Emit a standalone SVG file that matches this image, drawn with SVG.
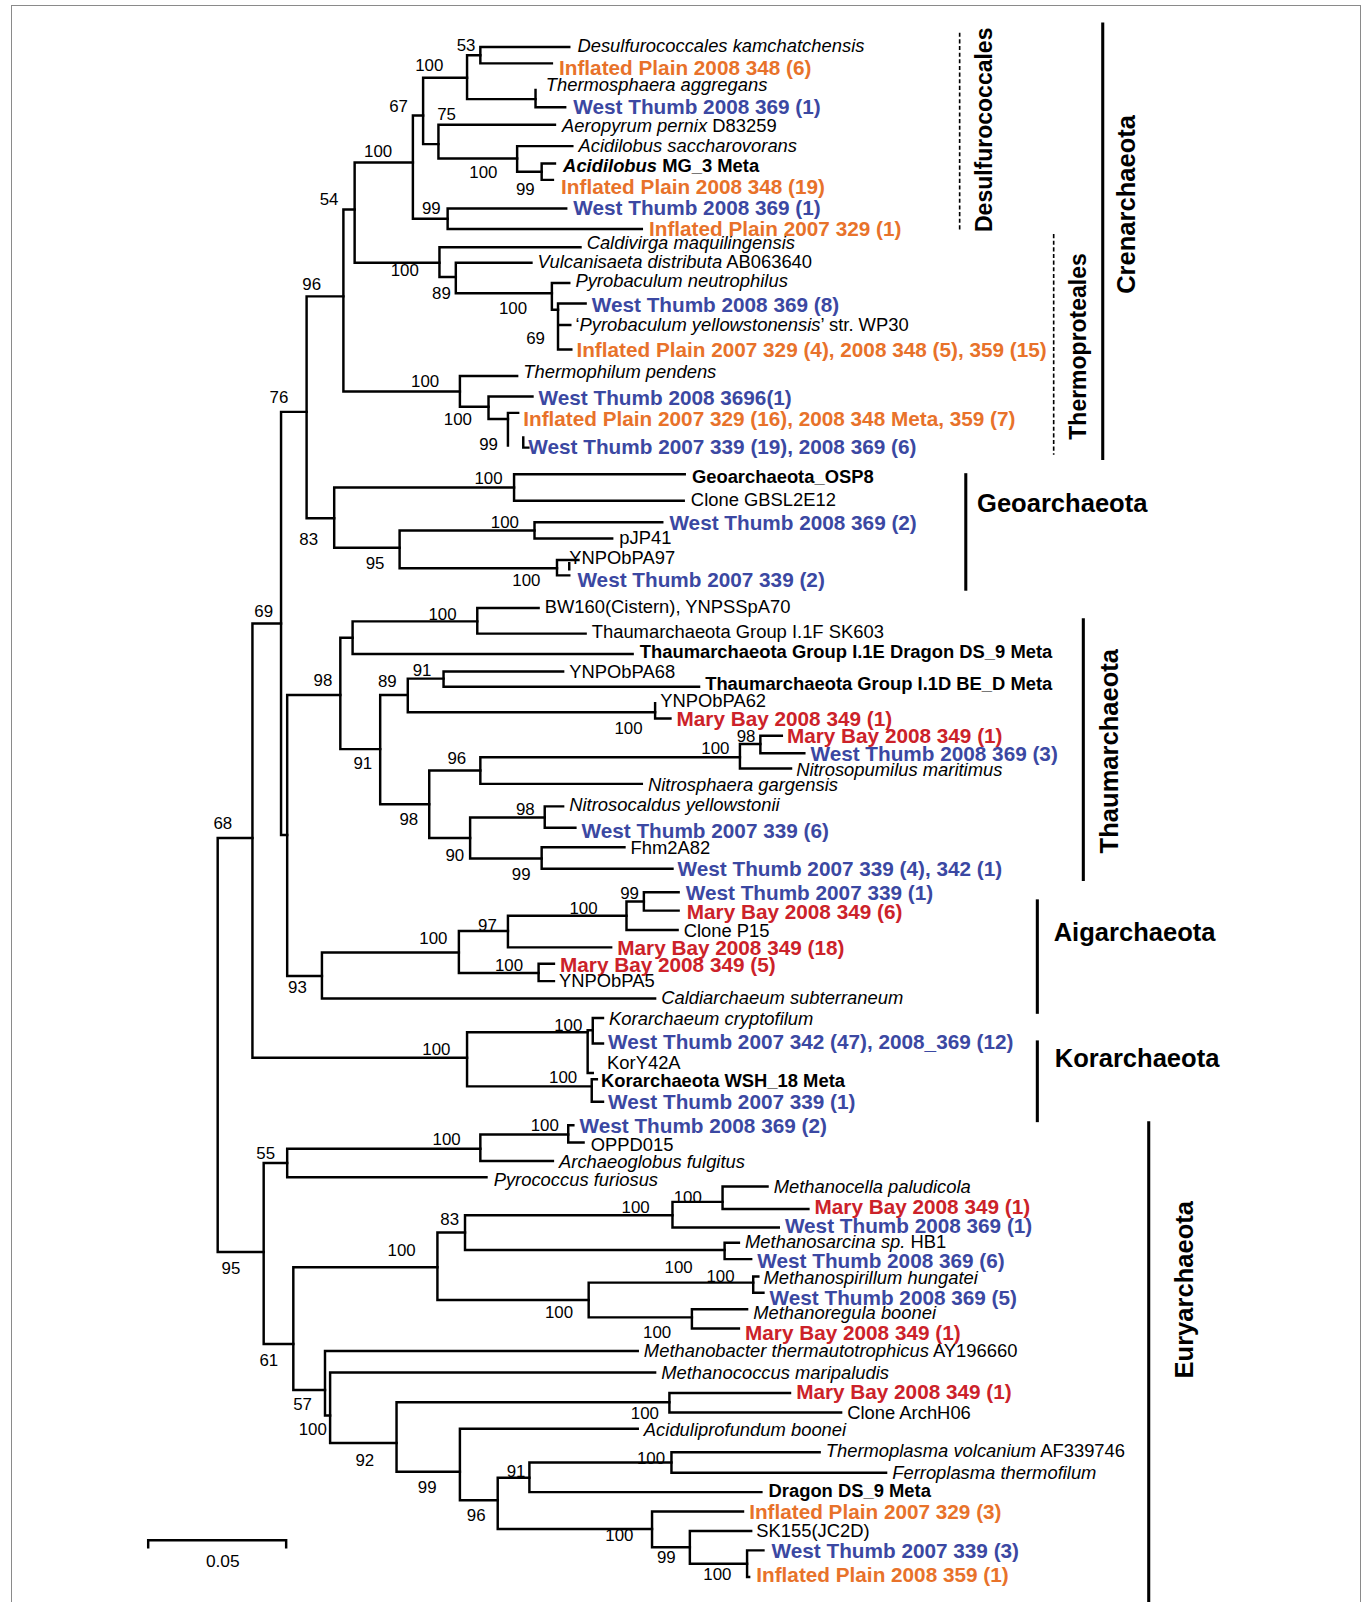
<svg xmlns="http://www.w3.org/2000/svg" width="1363" height="1602" viewBox="0 0 1363 1602">
<defs>
<style>
text{font-family:"Liberation Sans",Arial,sans-serif;fill:#000}
.br{stroke:#000;stroke-width:2.4;fill:none;stroke-linecap:square}
.bar{stroke:#000;stroke-width:3;fill:none}
.dash{stroke:#000;stroke-width:1.6;fill:none;stroke-dasharray:4 2.5}
.sup{font-size:16.5px;text-anchor:middle}
.i{font-size:18px;font-style:italic}
.r{font-size:18px}
.b{font-size:18px;font-weight:bold}
.o{font-size:20.3px;font-weight:bold;fill:#E8722A}
.bl{font-size:20.3px;font-weight:bold;fill:#3B48A2}
.rd{font-size:20.3px;font-weight:bold;fill:#CC2229}
.cl{font-size:25px;font-weight:bold}
.sub{font-size:22.5px;font-weight:bold}
.it{font-style:italic}
</style>
</defs>
<rect x="11.5" y="5.5" width="1349" height="1610" fill="#fff" stroke="#8a8a8a" stroke-width="1"/>
<g transform="scale(1.022)">
<g id="connectors" class="br">
<path d="M213 820V1225M213 820H247M213 1225H258"/>
<path d="M247 610V1035M247 610H275M247 1035H457"/>
<path d="M275 403V817M275 403H300M275 817H281"/>
<path d="M300 290V507M300 290H336M300 507H327"/>
<path d="M336 205V383M336 205H347M336 383H450"/>
<path d="M347 159V257M347 159H404M347 257H430"/>
<path d="M404 113V214M404 113H414M404 214H438"/>
<path d="M414 76V141M414 76H457M414 141H429"/>
<path d="M457 54V97M457 54H470M457 97H524"/>
<path d="M470 46V62M470 46H557M470 62H540"/>
<path d="M524 88V105M524 105H553"/>
<path d="M429 122V155M429 122H543M429 155H506"/>
<path d="M506 143V168M506 143H560M506 168H530"/>
<path d="M530 160V176M530 160H543M530 176H541"/>
<path d="M438 204V224M438 204H554M438 224H628"/>
<path d="M430 242V271M430 242H568M430 271H446"/>
<path d="M446 257V287M446 257H520M446 287H540"/>
<path d="M540 277V303M540 277H557M540 303H546"/>
<path d="M546 297V342M546 297H573M546 318H558M546 342H559"/>
<path d="M450 368V398M450 368H506M450 398H478"/>
<path d="M478 388V410M478 388H521M478 410H497"/>
<path d="M497 404V436M497 404H507M512 428V438H517"/>
<path d="M327 477V536M327 477H503M327 536H391"/>
<path d="M503 464V490M503 464H670M503 490H669"/>
<path d="M391 519V556M391 519H523M391 556H545"/>
<path d="M523 511V527M523 511H648M523 527H599"/>
<path d="M545 548V563M545 548H566M557 551V557M545 563H557"/>
<path d="M281 680V955M281 680H333M281 955H315"/>
<path d="M333 624V733M333 624H345M333 733H372"/>
<path d="M345 608V640M345 608H467M345 640H619"/>
<path d="M467 595V620M467 595H527M467 620H573"/>
<path d="M372 680V787M372 680H399M372 787H420"/>
<path d="M399 664V697M399 664H434M399 697H641"/>
<path d="M434 657V672M434 657H551M434 672H684"/>
<path d="M641 688V703M641 703H656"/>
<path d="M420 754V820M420 754H470M420 820H460"/>
<path d="M470 741V767M470 741H724M470 767H628"/>
<path d="M724 728V752M724 728H744M724 752H774"/>
<path d="M744 720V737M744 720H765M744 737H787"/>
<path d="M460 800V840M460 800H533M460 840H530"/>
<path d="M533 789V810M533 789H551M533 810H563"/>
<path d="M530 829V850M530 829H611M530 850H658"/>
<path d="M315 932V977M315 932H449M315 977H641"/>
<path d="M449 911V952M449 911H497M449 952H527"/>
<path d="M497 896V927M497 896H613M497 927H598"/>
<path d="M613 882V910M613 882H630M613 910H663"/>
<path d="M630 873V891M630 873H664M630 891H664"/>
<path d="M527 943V960M527 943H542M527 960H542"/>
<path d="M457 1010V1063M457 1010H575M457 1063H579"/>
<path d="M575 1008V1050M575 1008H580M575 1050H580"/>
<path d="M580 996V1021M580 996H590M580 1021H590"/>
<path d="M579 1056V1078M579 1056H584M579 1078H590"/>
<path d="M258 1138V1315M258 1138H281M258 1315H287"/>
<path d="M281 1124V1152M281 1124H470M281 1152H476"/>
<path d="M470 1110V1136M470 1110H556M470 1136H541"/>
<path d="M556 1101V1118M556 1101H561M556 1118H571"/>
<path d="M287 1240V1360M287 1240H428M287 1360H318"/>
<path d="M428 1206V1272M428 1206H455M428 1272H576"/>
<path d="M455 1189V1223M455 1189H658M455 1223H709"/>
<path d="M658 1176V1201M658 1176H707M658 1201H762"/>
<path d="M707 1161V1183M707 1161H751M707 1183H791"/>
<path d="M709 1216V1232M709 1216H723M709 1232H735"/>
<path d="M576 1255V1289M576 1255H737M576 1289H677"/>
<path d="M737 1249V1265M737 1249H742M737 1265H747"/>
<path d="M677 1281V1300M677 1281H731M677 1300H723"/>
<path d="M318 1322V1385M318 1322H624M318 1385H323"/>
<path d="M323 1343V1412M323 1343H641M323 1412H388"/>
<path d="M388 1372V1440M388 1372H655M388 1440H450"/>
<path d="M655 1363V1382M655 1363H773M655 1382H823"/>
<path d="M450 1398V1468M450 1398H624M450 1468H487"/>
<path d="M487 1446V1496M487 1446H518M487 1496H638"/>
<path d="M518 1431V1460M518 1431H657M518 1460H745"/>
<path d="M657 1421V1441M657 1421H802M657 1441H867"/>
<path d="M638 1479V1514M638 1479H727M638 1514H675"/>
<path d="M675 1498V1530M675 1498H735M675 1530H731"/>
<path d="M731 1517V1543M731 1517H747M731 1543H733"/>
</g>
<g id="support" class="sup">
<text x="456" y="50">53</text><text x="420" y="69">100</text><text x="390" y="110">67</text><text x="437" y="117">75</text>
<text x="370" y="154">100</text><text x="473" y="174">100</text><text x="514" y="191">99</text><text x="422" y="209">99</text>
<text x="322" y="201">54</text><text x="305" y="284">96</text><text x="396" y="270">100</text><text x="432" y="293">89</text>
<text x="502" y="307">100</text><text x="524" y="337">69</text><text x="273" y="394">76</text><text x="416" y="379">100</text>
<text x="448" y="416">100</text><text x="478" y="440">99</text>
<text x="478" y="474">100</text><text x="302" y="533">83</text><text x="494" y="517">100</text><text x="367" y="557">95</text><text x="515" y="573">100</text>
<text x="258" y="604">69</text><text x="433" y="607">100</text><text x="316" y="671">98</text><text x="413" y="661">91</text><text x="379" y="672">89</text>
<text x="615" y="718">100</text><text x="355" y="752">91</text><text x="447" y="748">96</text><text x="700" y="738">100</text><text x="730" y="726">98</text>
<text x="400" y="807">98</text><text x="514" y="797">98</text><text x="445" y="842">90</text><text x="510" y="861">99</text>
<text x="616" y="880">99</text><text x="571" y="894">100</text><text x="477" y="911">97</text><text x="424" y="924">100</text><text x="498" y="950">100</text><text x="291" y="972">93</text>
<text x="218" y="811">68</text><text x="427" y="1032">100</text><text x="556" y="1009">100</text><text x="551" y="1060">100</text>
<text x="533" y="1107">100</text><text x="437" y="1120">100</text><text x="260" y="1134">55</text><text x="440" y="1199">83</text>
<text x="622" y="1187">100</text><text x="673" y="1177">100</text><text x="393" y="1229">100</text><text x="226" y="1247">95</text>
<text x="664" y="1246">100</text><text x="705" y="1254">100</text><text x="547" y="1290">100</text><text x="643" y="1309">100</text>
<text x="263" y="1337">61</text><text x="296" y="1380">57</text><text x="306" y="1404">100</text><text x="631" y="1388">100</text>
<text x="357" y="1434">92</text><text x="418" y="1461">99</text><text x="505" y="1445">91</text><text x="637" y="1432">100</text>
<text x="466" y="1488">96</text><text x="606" y="1508">100</text><text x="652" y="1529">99</text><text x="702" y="1546">100</text>
</g>
<g id="tip01"><text class="i" x="565" y="51">Desulfurococcales kamchatchensis</text></g>
<g id="tip02"><text class="o" x="547" y="73">Inflated Plain 2008 348 (6)</text></g>
<g id="tip03"><text class="i" x="534" y="89">Thermosphaera aggregans</text></g>
<g id="tip04"><text class="bl" x="561" y="112">West Thumb 2008 369 (1)</text></g>
<g id="tip05"><text class="r" x="550" y="129"><tspan class="it">Aeropyrum pernix</tspan> D83259</text></g>
<g id="tip06"><text class="i" x="566" y="149">Acidilobus saccharovorans</text></g>
<g id="tip07"><text class="b" x="551" y="168"><tspan class="it">Acidilobus</tspan> MG_3 Meta</text></g>
<g id="tip08"><text class="o" x="549" y="190">Inflated Plain 2008 348 (19)</text></g>
<g id="tip09"><text class="bl" x="561" y="210">West Thumb 2008 369 (1)</text></g>
<g id="tip10"><text class="o" x="635" y="231">Inflated Plain 2007 329 (1)</text></g>
<g id="tip11"><text class="i" x="574" y="244">Caldivirga maquilingensis</text></g>
<g id="tip12"><text class="r" x="526" y="262"><tspan class="it">Vulcanisaeta distributa</tspan> AB063640</text></g>
<g id="tip13"><text class="i" x="563" y="281">Pyrobaculum neutrophilus</text></g>
<g id="tip14"><text class="bl" x="579" y="305">West Thumb 2008 369 (8)</text></g>
<g id="tip15"><text class="r" x="563" y="324">‘<tspan class="it">Pyrobaculum yellowstonensis</tspan>’ str. WP30</text></g>
<g id="tip16"><text class="o" x="564" y="349">Inflated Plain 2007 329 (4), 2008 348 (5), 359 (15)</text></g>
<g id="tip17"><text class="i" x="512" y="370">Thermophilum pendens</text></g>
<g id="tip18"><text class="bl" x="527" y="396">West Thumb 2008 3696(1)</text></g>
<g id="tip19"><text class="o" x="512" y="417">Inflated Plain 2007 329 (16), 2008 348 Meta, 359 (7)</text></g>
<g id="tip20"><text class="bl" x="517" y="444">West Thumb 2007 339 (19), 2008 369 (6)</text></g>
<g id="tip21"><text class="b" x="677" y="473">Geoarchaeota_OSP8</text></g>
<g id="tip22"><text class="r" x="676" y="495">Clone GBSL2E12</text></g>
<g id="tip23"><text class="bl" x="655" y="519">West Thumb 2008 369 (2)</text></g>
<g id="tip24"><text class="r" x="606" y="532">pJP41</text></g>
<g id="tip25"><text class="r" x="557" y="552">YNPObPA97</text></g>
<g id="tip26"><text class="bl" x="565" y="574">West Thumb 2007 339 (2)</text></g>
<g id="tip27"><text class="r" x="533" y="600">BW160(Cistern), YNPSSpA70</text></g>
<g id="tip28"><text class="r" x="579" y="624">Thaumarchaeota Group I.1F SK603</text></g>
<g id="tip29"><text class="b" x="626" y="644">Thaumarchaeota Group I.1E Dragon DS_9 Meta</text></g>
<g id="tip30"><text class="r" x="557" y="663">YNPObPA68</text></g>
<g id="tip31"><text class="b" x="690" y="675">Thaumarchaeota Group I.1D BE_D Meta</text></g>
<g id="tip32"><text class="r" x="646" y="692">YNPObPA62</text></g>
<g id="tip33"><text class="rd" x="662" y="710">Mary Bay 2008 349 (1)</text></g>
<g id="tip34"><text class="rd" x="770" y="727">Mary Bay 2008 349 (1)</text></g>
<g id="tip35"><text class="bl" x="793" y="745">West Thumb 2008 369 (3)</text></g>
<g id="tip36"><text class="i" x="779" y="759">Nitrosopumilus maritimus</text></g>
<g id="tip37"><text class="i" x="634" y="774">Nitrosphaera gargensis</text></g>
<g id="tip38"><text class="i" x="557" y="794">Nitrosocaldus yellowstonii</text></g>
<g id="tip39"><text class="bl" x="569" y="820">West Thumb 2007 339 (6)</text></g>
<g id="tip40"><text class="r" x="617" y="836">Fhm2A82</text></g>
<g id="tip41"><text class="bl" x="663" y="857">West Thumb 2007 339 (4), 342 (1)</text></g>
<g id="tip42"><text class="bl" x="671" y="881">West Thumb 2007 339 (1)</text></g>
<g id="tip43"><text class="rd" x="672" y="899">Mary Bay 2008 349 (6)</text></g>
<g id="tip44"><text class="r" x="669" y="917">Clone P15</text></g>
<g id="tip45"><text class="rd" x="604" y="934">Mary Bay 2008 349 (18)</text></g>
<g id="tip46"><text class="rd" x="548" y="951">Mary Bay 2008 349 (5)</text></g>
<g id="tip47"><text class="r" x="547" y="966">YNPObPA5</text></g>
<g id="tip48"><text class="i" x="647" y="982">Caldiarchaeum subterraneum</text></g>
<g id="tip49"><text class="i" x="596" y="1003">Korarchaeum cryptofilum</text></g>
<g id="tip50"><text class="bl" x="595" y="1026">West Thumb 2007 342 (47), 2008_369 (12)</text></g>
<g id="tip51"><text class="r" x="594" y="1046">KorY42A</text></g>
<g id="tip52"><text class="b" x="588" y="1064">Korarchaeota WSH_18 Meta</text></g>
<g id="tip53"><text class="bl" x="595" y="1085">West Thumb 2007 339 (1)</text></g>
<g id="tip54"><text class="bl" x="567" y="1109">West Thumb 2008 369 (2)</text></g>
<g id="tip55"><text class="r" x="578" y="1126">OPPD015</text></g>
<g id="tip56"><text class="i" x="547" y="1143">Archaeoglobus fulgitus</text></g>
<g id="tip57"><text class="i" x="483" y="1160">Pyrococcus furiosus</text></g>
<g id="tip58"><text class="i" x="757" y="1167">Methanocella paludicola</text></g>
<g id="tip59"><text class="rd" x="797" y="1188">Mary Bay 2008 349 (1)</text></g>
<g id="tip60"><text class="bl" x="768" y="1206">West Thumb 2008 369 (1)</text></g>
<g id="tip61"><text class="r" x="729" y="1221"><tspan class="it">Methanosarcina sp.</tspan> HB1</text></g>
<g id="tip62"><text class="bl" x="741" y="1241">West Thumb 2008 369 (6)</text></g>
<g id="tip63"><text class="i" x="747" y="1256">Methanospirillum hungatei</text></g>
<g id="tip64"><text class="bl" x="753" y="1277">West Thumb 2008 369 (5)</text></g>
<g id="tip65"><text class="i" x="737" y="1291">Methanoregula boonei</text></g>
<g id="tip66"><text class="rd" x="729" y="1311">Mary Bay 2008 349 (1)</text></g>
<g id="tip67"><text class="r" x="630" y="1328"><tspan class="it">Methanobacter thermautotrophicus</tspan> AY196660</text></g>
<g id="tip68"><text class="i" x="647" y="1349">Methanococcus maripaludis</text></g>
<g id="tip69"><text class="rd" x="779" y="1369">Mary Bay 2008 349 (1)</text></g>
<g id="tip70"><text class="r" x="829" y="1388">Clone ArchH06</text></g>
<g id="tip71"><text class="i" x="630" y="1405">Aciduliprofundum boonei</text></g>
<g id="tip72"><text class="r" x="808" y="1426"><tspan class="it">Thermoplasma volcanium</tspan> AF339746</text></g>
<g id="tip73"><text class="i" x="873" y="1447">Ferroplasma thermofilum</text></g>
<g id="tip74"><text class="b" x="752" y="1465">Dragon DS_9 Meta</text></g>
<g id="tip75"><text class="o" x="733" y="1486">Inflated Plain 2007 329 (3)</text></g>
<g id="tip76"><text class="r" x="740" y="1504">SK155(JC2D)</text></g>
<g id="tip77"><text class="bl" x="755" y="1524">West Thumb 2007 339 (3)</text></g>
<g id="tip78"><text class="o" x="740" y="1548">Inflated Plain 2008 359 (1)</text></g>
<g id="clade-desulfurococcales"><path class="dash" d="M939 32V226"/><text class="sub" text-anchor="middle" transform="translate(971 127) rotate(-90)">Desulfurococcales</text></g>
<g id="clade-thermoproteales"><path class="dash" d="M1031 229V445"/><text class="sub" text-anchor="middle" transform="translate(1063 339) rotate(-90)">Thermoproteales</text></g>
<g id="clade-crenarchaeota"><path class="bar" d="M1079 22V450"/><text class="cl" text-anchor="middle" transform="translate(1111 200) rotate(-90)">Crenarchaeota</text></g>
<g id="clade-geoarchaeota"><path class="bar" d="M945 463V578"/><text class="cl" x="956" y="501">Geoarchaeota</text></g>
<g id="clade-thaumarchaeota"><path class="bar" d="M1060 605V862"/><text class="cl" text-anchor="middle" transform="translate(1094 735) rotate(-90)">Thaumarchaeota</text></g>
<g id="clade-aigarchaeota"><path class="bar" d="M1015 880V992"/><text class="cl" x="1031" y="921">Aigarchaeota</text></g>
<g id="clade-korarchaeota"><path class="bar" d="M1015 1018V1098"/><text class="cl" x="1032" y="1044">Korarchaeota</text></g>
<g id="clade-euryarchaeota"><path class="bar" d="M1124 1097V1575"/><text class="cl" text-anchor="middle" transform="translate(1167 1262) rotate(-90)">Euryarchaeota</text></g>
<g id="scale-bar"><path class="br" d="M145 1514V1507H280V1514"/><text class="r" x="218" y="1533" text-anchor="middle" style="font-size:17px">0.05</text></g>
</g>
</svg>
